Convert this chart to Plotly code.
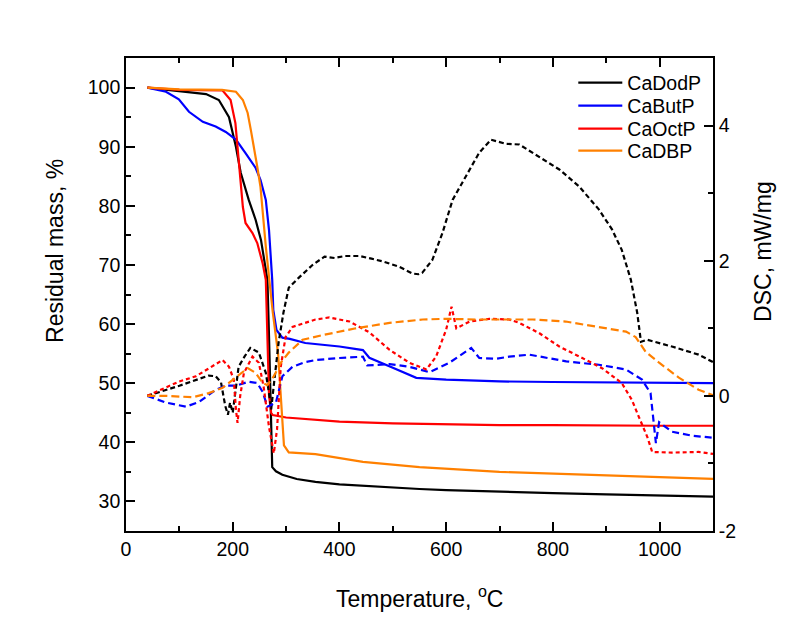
import plotly.graph_objects as go

# ---------------- data ----------------
# TG curves (left axis, Residual mass %)
t_dodp = [40, 80, 125, 150, 174, 193, 206, 215, 230, 243, 253, 259, 265, 268, 271, 274, 281, 293, 320, 355, 400, 450, 500, 550, 600, 700, 800, 900, 1000, 1100]
m_dodp = [100, 99.6, 99.2, 98.9, 97.9, 95, 90, 85.6, 81, 77.6, 74.2, 70.8, 67.5, 58, 46, 35.8, 35.1, 34.5, 33.8, 33.3, 32.9, 32.6, 32.3, 32.1, 31.9, 31.6, 31.4, 31.2, 31.0, 30.8]

t_butp = [40, 75, 99, 118, 144, 168, 187, 206, 224, 243, 252, 262, 268, 274, 276, 282, 293, 307, 336, 400, 444, 456, 500, 544, 600, 700, 800, 900, 1000, 1100]
m_butp = [100, 99.3, 98, 95.9, 94.2, 93.4, 92.5, 91.2, 88.9, 86.4, 84.4, 81, 75.9, 67.5, 62.4, 59, 57.7, 57.5, 56.8, 56.2, 55.6, 54.3, 52.6, 50.9, 50.6, 50.3, 50.2, 50.1, 50.1, 50.0]

t_octp = [40, 100, 181, 196, 205, 212, 219, 224, 237, 246, 256, 262, 265, 268, 272, 275, 300, 356, 400, 500, 600, 700, 800, 900, 1000, 1100]
m_octp = [100, 99.6, 99.5, 97.9, 94, 87.3, 79.8, 77.1, 75.4, 73.7, 70.3, 67.5, 58, 48, 45, 44.6, 44.2, 43.8, 43.5, 43.2, 43.0, 42.9, 42.9, 42.8, 42.8, 42.8]

t_dbp = [40, 100, 180, 206, 219, 228, 234, 240, 246, 252, 256, 262, 268, 275, 285, 292, 296, 305, 355, 444, 550, 700, 800, 900, 1000, 1100]
m_dbp = [100, 99.7, 99.6, 99.3, 97.9, 95.7, 92.8, 90, 86.6, 83.2, 78.8, 73.1, 68, 62, 55, 45, 39.5, 38.3, 38.0, 36.7, 35.8, 35.0, 34.7, 34.4, 34.1, 33.8]

# DSC curves (right axis, mW/mg)
td_dodp = [40, 100, 155, 168, 178, 186, 191, 195, 200, 211, 222, 233, 249, 262, 268, 272, 279, 286, 295, 305, 324, 350, 372, 391, 410, 438, 460, 481, 512, 537, 548, 555, 574, 593, 612, 637, 662, 684, 700, 712, 737, 774, 812, 849, 886, 911, 929, 946, 958, 965, 977, 1023, 1073, 1100]
d_dodp = [0.0, 0.15, 0.30, 0.29, 0.2, -0.15, -0.28, -0.1, -0.25, 0.43, 0.58, 0.71, 0.64, 0.34, 0.04, -0.2, 0.3, 0.79, 1.23, 1.6, 1.75, 1.94, 2.06, 2.04, 2.07, 2.07, 2.03, 1.99, 1.91, 1.81, 1.80, 1.82, 2.01, 2.41, 2.9, 3.24, 3.6, 3.79, 3.76, 3.73, 3.72, 3.54, 3.35, 3.10, 2.76, 2.46, 2.16, 1.72, 1.23, 0.80, 0.83, 0.73, 0.61, 0.50]

td_butp = [40, 75, 112, 137, 168, 187, 206, 230, 246, 256, 265, 281, 293, 312, 336, 355, 400, 444, 452, 494, 531, 569, 606, 647, 662, 694, 718, 756, 825, 886, 937, 967, 983, 993, 999, 1023, 1061, 1100]
d_butp = [0.0, -0.1, -0.16, -0.09, 0.09, 0.15, 0.15, 0.21, 0.19, 0.06, -0.16, -0.1, 0.29, 0.43, 0.50, 0.53, 0.56, 0.58, 0.45, 0.47, 0.43, 0.35, 0.49, 0.71, 0.56, 0.55, 0.58, 0.61, 0.51, 0.46, 0.39, 0.24, 0.04, -0.70, -0.39, -0.53, -0.59, -0.62]

td_octp = [40, 99, 131, 155, 181, 193, 202, 206, 209, 214, 221, 237, 249, 258, 268, 277, 283, 290, 299, 312, 336, 355, 381, 419, 456, 494, 531, 563, 581, 600, 610, 619, 644, 681, 718, 737, 774, 812, 855, 892, 929, 948, 961, 977, 986, 1023, 1073, 1100]
d_octp = [0.0, 0.21, 0.29, 0.41, 0.53, 0.43, 0.24, -0.2, -0.40, 0.0, 0.34, 0.58, 0.49, 0.13, -0.46, -0.85, -0.5, 0.43, 0.87, 1.02, 1.08, 1.13, 1.16, 1.10, 0.94, 0.68, 0.49, 0.39, 0.58, 0.98, 1.32, 1.0, 1.10, 1.14, 1.13, 1.08, 0.93, 0.73, 0.56, 0.41, 0.19, -0.06, -0.31, -0.61, -0.83, -0.84, -0.83, -0.86]

td_dbp = [40, 75, 125, 155, 181, 206, 228, 243, 256, 265, 277, 290, 305, 331, 369, 431, 494, 556, 600, 656, 718, 762, 824, 886, 937, 955, 974, 999, 1036, 1073, 1100]
d_dbp = [0.0, 0.0, -0.02, 0.04, 0.12, 0.27, 0.41, 0.34, 0.19, 0.16, 0.29, 0.49, 0.64, 0.83, 0.90, 1.0, 1.08, 1.13, 1.14, 1.13, 1.13, 1.13, 1.10, 1.02, 0.95, 0.87, 0.65, 0.49, 0.27, 0.09, 0.01]

names = ["CaDodP", "CaButP", "CaOctP", "CaDBP"]
colors = ["#000000", "#0000FF", "#FF0000", "#FF8000"]
dsc_dash = ["5px,3px", "7px,4px", "4px,3px", "8px,4px"]

tg_t = [t_dodp, t_butp, t_octp, t_dbp]
tg_m = [m_dodp, m_butp, m_octp, m_dbp]
dsc_t = [td_dodp, td_butp, td_octp, td_dbp]
dsc_v = [d_dodp, d_butp, d_octp, d_dbp]

FONT = "Arial, Liberation Sans, sans-serif"
PLOT_TOP, PLOT_BOTTOM = 58, 531

fig = go.Figure()
# DSC first (drawn beneath)
for n, c, tx, v, ds in zip(names, colors, dsc_t, dsc_v, dsc_dash):
    fig.add_trace(go.Scatter(x=tx, y=v, mode="lines", yaxis="y2", showlegend=False,
                             line=dict(color=c, width=2.2, dash=ds)))
legend_ids = ["legend", "legend2", "legend3", "legend4"]
for n, c, tx, m, lg in zip(names, colors, tg_t, tg_m, legend_ids):
    fig.add_trace(go.Scatter(x=tx, y=m, mode="lines", name=n, legend=lg,
                             line=dict(color=c, width=2.2)))

axis_common = dict(showline=True, linecolor="black", linewidth=1.6, ticks="inside",
                   tickcolor="black", tickwidth=1.6, ticklen=9, showgrid=False, zeroline=False,
                   tickfont=dict(family=FONT, size=19.5, color="black"))

legend_centers = [83, 106, 129, 151]
legends = {}
for lg, yc in zip(legend_ids, legend_centers):
    legends[lg] = dict(x=0.762, y=(PLOT_BOTTOM - yc) / (PLOT_BOTTOM - PLOT_TOP),
                       xanchor="left", yanchor="middle", bgcolor="rgba(0,0,0,0)",
                       font=dict(family=FONT, size=19.5, color="black"), itemwidth=44)

fig.update_layout(
    width=790, height=623,
    margin=dict(l=126, r=77, t=58, b=92),
    paper_bgcolor="white", plot_bgcolor="white",
    xaxis=dict(range=[0, 1100], tickmode="linear", tick0=0, dtick=200, mirror="ticks",
               minor=dict(ticks="inside", ticklen=5, dtick=100, tickcolor="black", tickwidth=1.6),
               **axis_common),
    yaxis=dict(range=[25, 105], tickmode="linear", tick0=0, dtick=10,
               minor=dict(ticks="inside", ticklen=5, dtick=5, tickcolor="black", tickwidth=1.6),
               **axis_common),
    yaxis2=dict(range=[-2, 5], overlaying="y", side="right", tickmode="array",
                tickvals=[-2, 0, 2, 4], ticktext=["-2", "0", "2", "4"],
                minor=dict(ticks="inside", ticklen=5, dtick=1, tickcolor="black", tickwidth=1.6),
                **axis_common),
    annotations=[
        dict(text="Temperature, <sup>o</sup>C", x=0.5, y=-0.14, xref="paper", yref="paper",
             xanchor="center", yanchor="middle", showarrow=False,
             font=dict(family=FONT, size=23, color="black")),
        dict(text="Residual mass, %", x=-0.121, y=0.592, xref="paper", yref="paper",
             xanchor="center", yanchor="middle", textangle=-90, showarrow=False,
             font=dict(family=FONT, size=23, color="black")),
        dict(text="DSC, mW/mg", x=1.085, y=0.592, xref="paper", yref="paper",
             xanchor="center", yanchor="middle", textangle=-90, showarrow=False,
             font=dict(family=FONT, size=23, color="black")),
    ],
    **legends,
)

fig.write_html("out.html")
